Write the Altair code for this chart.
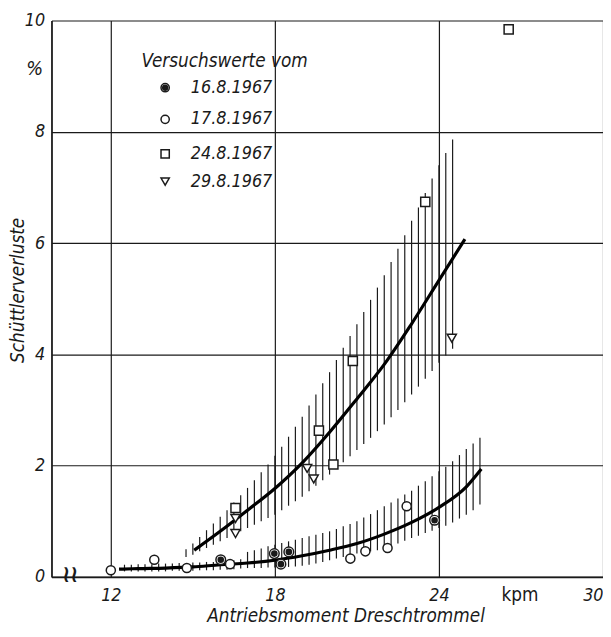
import altair as alt
import pandas as pd

# ---------------- data ----------------
# measured points (x = Antriebsmoment in kpm, y = Schüttlerverluste in %)
d16_x = [16.02, 17.98, 18.22, 18.51, 23.84]
d16_y = [0.31, 0.42, 0.23, 0.45, 1.02]

d17_x = [12.0, 13.59, 14.78, 16.36, 20.76, 21.31, 22.12, 22.82]
d17_y = [0.12, 0.31, 0.16, 0.23, 0.33, 0.46, 0.52, 1.27]

d24_x = [16.56, 19.61, 20.14, 20.85, 23.5, 26.55]
d24_y = [1.24, 2.63, 2.02, 3.88, 6.74, 9.84]

d29_x = [16.56, 16.56, 19.18, 19.42, 24.47]
d29_y = [1.05, 0.78, 1.95, 1.76, 4.29]

# fitted curves
up_x = [15.05, 16, 17, 18, 19, 20, 21, 22, 23, 24, 24.95]
up_y = [0.48, 0.82, 1.2, 1.59, 2.05, 2.6, 3.2, 3.82, 4.55, 5.33, 6.07]

lo_x = [12.3, 13, 14, 15, 16, 17, 18, 19, 20, 21, 22, 23, 24, 25, 25.55]
lo_y = [0.14, 0.15, 0.16, 0.18, 0.22, 0.25, 0.30, 0.38, 0.48, 0.60, 0.77, 0.98, 1.25, 1.62, 1.94]

# hatched scatter bands (each vertical hatch line: x, bottom, top)
hu_x = [14.75, 15.0, 15.25, 15.5, 15.75, 16.0, 16.25, 16.5, 16.75, 17.0, 17.25, 17.5, 17.75,
        18.0, 18.25, 18.5, 18.75, 19.0, 19.25, 19.5, 19.75, 20.0, 20.25, 20.5, 20.75, 21.0,
        21.25, 21.5, 21.75, 22.0, 22.25, 22.5, 22.75, 23.0, 23.25, 23.5, 23.75, 24.0, 24.25, 24.5]
hu_lo = [0.36, 0.40, 0.46, 0.52, 0.58, 0.64, 0.70, 0.76, 0.82, 0.88, 0.94, 1.00, 1.06,
         1.12, 1.20, 1.28, 1.36, 1.44, 1.54, 1.64, 1.74, 1.84, 1.95, 2.06, 2.17, 2.28,
         2.39, 2.50, 2.62, 2.74, 2.87, 3.00, 3.14, 3.28, 3.42, 3.56, 3.70, 3.85, 3.98, 4.10]
hu_hi = [0.50, 0.60, 0.72, 0.84, 0.96, 1.08, 1.20, 1.34, 1.47, 1.60, 1.74, 1.88, 2.02,
         2.18, 2.34, 2.52, 2.70, 2.88, 3.08, 3.28, 3.48, 3.68, 3.90, 4.12, 4.33, 4.54,
         4.76, 4.98, 5.20, 5.42, 5.66, 5.90, 6.14, 6.40, 6.64, 6.90, 7.16, 7.40, 7.62, 7.86]

hl_x = [12.5, 12.75, 13.0, 13.25, 13.5, 13.75, 14.0, 14.25, 14.5, 14.75, 15.0, 15.25, 15.5,
        15.75, 16.0, 16.25, 16.5, 16.75, 17.0, 17.25, 17.5, 17.75, 18.0, 18.25, 18.5, 18.75,
        19.0, 19.25, 19.5, 19.75, 20.0, 20.25, 20.5, 20.75, 21.0, 21.25, 21.5, 21.75, 22.0,
        22.25, 22.5, 22.75, 23.0, 23.25, 23.5, 23.75, 24.0, 24.25, 24.5, 24.75, 25.0, 25.25, 25.5]
hl_lo = [0.10, 0.10, 0.10, 0.10, 0.10, 0.10, 0.10, 0.11, 0.11, 0.11, 0.11, 0.12, 0.12,
         0.12, 0.13, 0.13, 0.14, 0.15, 0.16, 0.16, 0.16, 0.17, 0.17, 0.18, 0.18, 0.19,
         0.20, 0.22, 0.24, 0.27, 0.30, 0.33, 0.36, 0.39, 0.42, 0.44, 0.46, 0.48, 0.50,
         0.55, 0.60, 0.65, 0.70, 0.74, 0.79, 0.83, 0.88, 0.92, 0.98, 1.05, 1.12, 1.20, 1.30]
hl_hi = [0.22, 0.22, 0.23, 0.23, 0.23, 0.24, 0.24, 0.24, 0.25, 0.25, 0.26, 0.26, 0.27,
         0.27, 0.28, 0.29, 0.30, 0.32, 0.45, 0.48, 0.51, 0.55, 0.58, 0.61, 0.64, 0.67,
         0.70, 0.73, 0.76, 0.79, 0.82, 0.86, 0.91, 0.95, 1.00, 1.07, 1.13, 1.20, 1.27,
         1.34, 1.41, 1.48, 1.55, 1.64, 1.72, 1.81, 1.90, 1.98, 2.08, 2.19, 2.30, 2.40, 2.50]

x_ticks = [12, 18, 24, 30]
y_ticks = [0, 2, 4, 6, 8, 10]
legend_labels = ["16.8.1967", "17.8.1967", "24.8.1967", "29.8.1967"]
legend_title = "Versuchswerte vom"
x_title = "Antriebsmoment Dreschtrommel"
x_unit = "kpm"
y_title = "Schüttlerverluste"
y_unit = "%"

# ---------------- chart ----------------
FONT = "DejaVu Sans Condensed, Liberation Sans Narrow, DejaVu Sans, sans-serif"
INK = "#1a1a1a"
W, H = 558, 563

xs = alt.Scale(domain=[9.83, 30], nice=False, zero=False)
ys = alt.Scale(domain=[0, 10], nice=False, zero=False)
xaxis = alt.Axis(values=x_ticks, title=None, grid=True, ticks=False, labelFlush=True,
                 labelFont=FONT, labelFontStyle="italic", labelFontSize=18, labelColor=INK,
                 labelPadding=10, gridColor=INK, gridWidth=1.2, gridOpacity=1,
                 domainColor=INK, domainWidth=1.8, labelOverlap=False)
yaxis = alt.Axis(values=y_ticks, title=None, grid=True, ticks=False, labelFlush=False,
                 labelFont=FONT, labelFontStyle="italic", labelFontSize=18, labelColor=INK,
                 labelPadding=7, gridColor=INK, gridWidth=1.2, gridOpacity=1,
                 domainColor=INK, domainWidth=1.8, labelOverlap=False)


def X(f):
    return alt.X(f, type="quantitative", scale=xs, axis=xaxis)


def Y(f):
    return alt.Y(f, type="quantitative", scale=ys, axis=yaxis)


hu = pd.DataFrame({"x": hu_x, "lo": hu_lo, "hi": hu_hi})
hl = pd.DataFrame({"x": hl_x, "lo": hl_lo, "hi": hl_hi})
hatch = pd.concat([hu, hl], ignore_index=True)

hatch_layer = alt.Chart(hatch).mark_rule(color=INK, strokeWidth=1.2).encode(
    x=X("x"), y=Y("lo"), y2="hi")

cu = pd.DataFrame({"x": up_x, "y": up_y})
cl = pd.DataFrame({"x": lo_x, "y": lo_y})
curve_up = alt.Chart(cu).mark_line(color="#000", strokeWidth=3.2, interpolate="monotone").encode(
    x=X("x"), y=Y("y"))
curve_lo = alt.Chart(cl).mark_line(color="#000", strokeWidth=3.2, interpolate="monotone").encode(
    x=X("x"), y=Y("y"))

p16 = pd.DataFrame({"x": d16_x, "y": d16_y})
p17 = pd.DataFrame({"x": d17_x, "y": d17_y})
p24 = pd.DataFrame({"x": d24_x, "y": d24_y})
p29 = pd.DataFrame({"x": d29_x, "y": d29_y})


def pts(df, shape, size):
    return alt.Chart(df).mark_point(shape=shape, size=size, filled=True, fill="white",
                                    stroke=INK, strokeWidth=1.5, opacity=1).encode(
        x=X("x"), y=Y("y"))


l16 = pts(p16, "circle", 95)
l16dot = alt.Chart(p16).mark_point(shape="circle", size=22, filled=True, fill=INK,
                                   stroke=INK, opacity=1).encode(x=X("x"), y=Y("y"))
l17 = pts(p17, "circle", 85)
l24 = pts(p24, "square", 85)
l29 = pts(p29, "triangle-down", 85)

# ---- legend (drawn by hand in plot pixels) ----
leg = pd.DataFrame({"label": legend_labels,
                    "py": [68, 100, 135, 163],
                    "shape": ["circle", "circle", "square", "triangle-down"]})
leg_text = alt.Chart(leg).mark_text(font=FONT, fontStyle="italic", fontSize=18, align="left",
                                    baseline="middle", color=INK).encode(
    x=alt.value(141), y=alt.Y("py:Q", scale=None), text="label:N")
leg_sym = alt.Chart(leg).mark_point(size=70, filled=True, fill="white", stroke=INK,
                                    strokeWidth=1.5, opacity=1).encode(
    x=alt.value(115), y=alt.Y("py:Q", scale=None),
    shape=alt.Shape("shape:N", scale=None, legend=None))
leg_dot = alt.Chart(leg.iloc[[0]]).mark_point(shape="circle", size=20, filled=True, fill=INK,
                                              stroke=INK, opacity=1).encode(
    x=alt.value(115), y=alt.Y("py:Q", scale=None))
leg_title = alt.Chart(pd.DataFrame({"t": [legend_title]})).mark_text(
    font=FONT, fontStyle="italic", fontSize=19, align="left", baseline="middle", color=INK).encode(
    x=alt.value(91), y=alt.value(41), text="t:N")

# ---- titles / units ----
def label(txt, px, py, size=18, style="italic", angle=0, align="center", weight="normal"):
    return alt.Chart(pd.DataFrame({"t": [txt]})).mark_text(
        font=FONT, fontStyle=style, fontSize=size, align=align, baseline="middle",
        color=INK, angle=angle, fontWeight=weight).encode(
        x=alt.value(px), y=alt.value(py), text="t:N")


t_x = label(x_title, 298, 603, size=19)
t_unit = label(x_unit, 474, 581, size=19, style="normal")
t_y = label(y_title, -34, 273, size=19, angle=270)
t_pct = label(y_unit, -17, 49, size=20)
t_break = label("≀≀", 19, 561, size=24, style="normal", weight="bold")

chart = alt.layer(
    hatch_layer, curve_up, curve_lo, l24, l29, l17, l16, l16dot,
    leg_title, leg_sym, leg_dot, leg_text, t_x, t_unit, t_y, t_pct, t_break
).properties(
    width=W, height=H, autosize="none",
    padding={"left": 44, "top": 9, "right": 0, "bottom": 48}
).configure_view(stroke=None)

chart.save("out.html", embed_options={"renderer": "svg", "actions": False})
